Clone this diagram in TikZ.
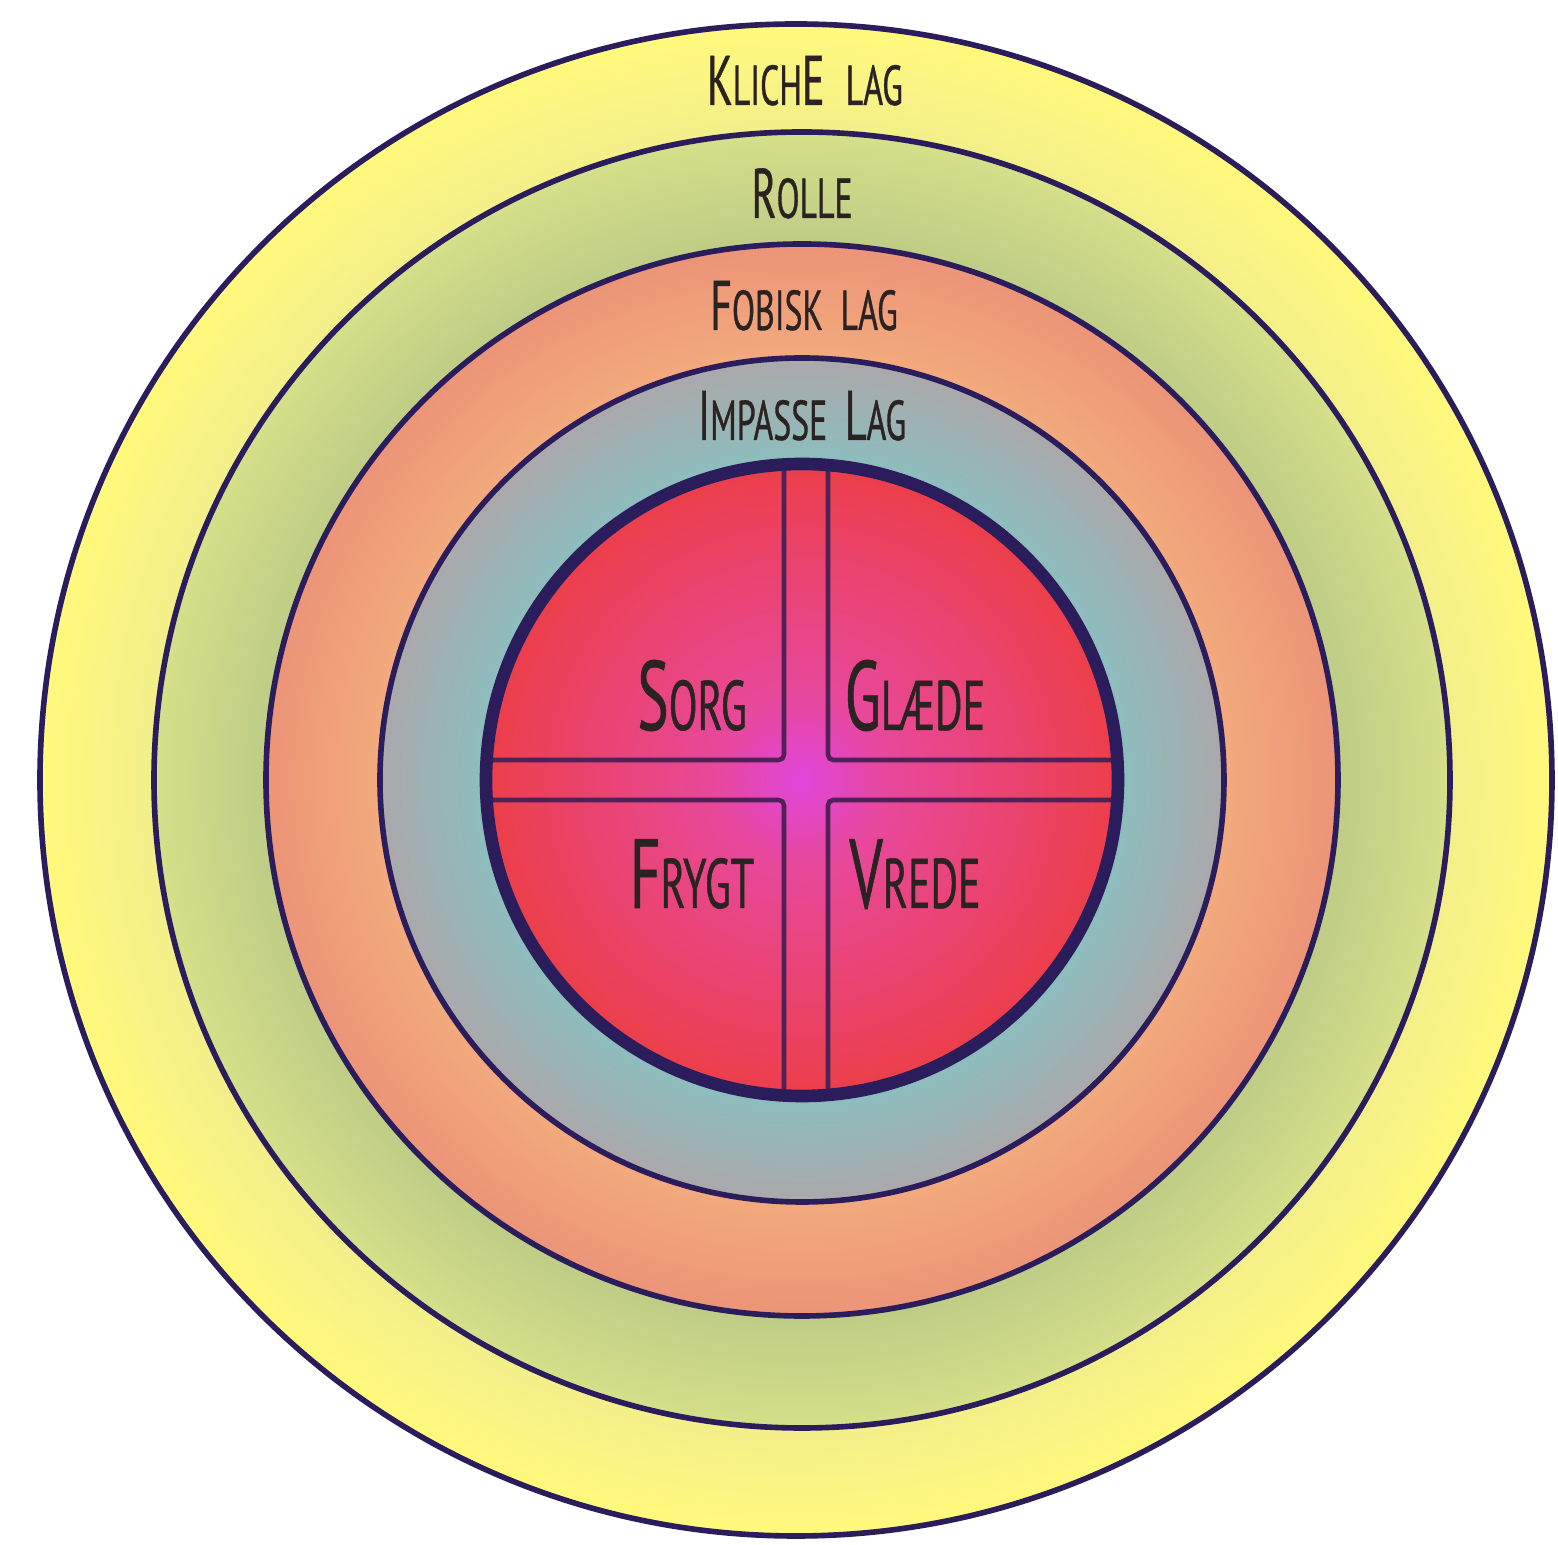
\documentclass[tikz,border=0pt]{standalone}
\usepackage{fontspec}
\usepackage{xcolor,tikz}
\newfontfamily\handfont[FakeStretch=0.6,FakeBold=0.6]{PT Sans}
\definecolor{rim}{HTML}{2B1D5C}
\definecolor{bars}{HTML}{4F2157}
\definecolor{ink}{HTML}{2B2222}
\definecolor{klicheIn}{HTML}{F3EF8A}
\definecolor{klicheOut}{HTML}{FFF97C}
\definecolor{rolleIn}{HTML}{BECC86}
\definecolor{rolleOut}{HTML}{D6DF88}
\definecolor{fobiskIn}{HTML}{F2AA7D}
\definecolor{fobiskOut}{HTML}{EC9478}
\definecolor{impasseIn}{HTML}{8CBEBE}
\definecolor{impasseOut}{HTML}{ABA8AB}
\definecolor{coreMid}{HTML}{E046DC}
\definecolor{corePink}{HTML}{E8489A}
\definecolor{coreRed}{HTML}{EC3F4A}
% one radial ramp per layer: inner edge of the band -> outer edge
\pgfdeclareradialshading{klicheshade}{\pgfpoint{0bp}{0bp}}{color(0bp)=(klicheIn); color(21.4bp)=(klicheIn); color(25bp)=(klicheOut); color(50bp)=(klicheOut)}
\pgfdeclareradialshading{rolleshade}{\pgfpoint{0bp}{0bp}}{color(0bp)=(rolleIn); color(20.7bp)=(rolleIn); color(25bp)=(rolleOut); color(50bp)=(rolleOut)}
\pgfdeclareradialshading{fobiskshade}{\pgfpoint{0bp}{0bp}}{color(0bp)=(fobiskIn); color(19.7bp)=(fobiskIn); color(25bp)=(fobiskOut); color(50bp)=(fobiskOut)}
\pgfdeclareradialshading{impasseshade}{\pgfpoint{0bp}{0bp}}{color(0bp)=(impasseIn); color(18.7bp)=(impasseIn); color(25bp)=(impasseOut); color(50bp)=(impasseOut)}
\pgfdeclareradialshading{coreshade}{\pgfpoint{0bp}{0bp}}{color(0bp)=(coreMid); color(7bp)=(corePink); color(18bp)=(coreRed!60!corePink); color(25bp)=(coreRed); color(50bp)=(coreRed)}
\newcommand{\Hi}[1]{{\fontsize{\hisz}{\hisz}\selectfont #1}}
\newcommand{\Lo}[1]{{\fontsize{\losz}{\losz}\selectfont #1}}

\begin{document}
\begin{tikzpicture}[x=1cm,y=1cm,
  edge/.style={draw=rim,line width=1.6pt},
  corerim/.style={draw=rim,line width=3.6pt},
  bar/.style={draw=bars,line width=1.3pt,rounded corners=1.5pt,line cap=round},
  ring/.style={font=\handfont\def\hisz{20}\def\losz{16},text=ink,anchor=base,inner sep=0pt},
  core/.style={font=\handfont\def\hisz{28}\def\losz{20},text=ink,anchor=base,inner sep=0pt}]
  \useasboundingbox (-8.02,-7.65) rectangle (7.56,7.80);
  \fill[white] (-8.02,-7.65) rectangle (7.56,7.80);
  \coordinate (c) at (0,0);
  \coordinate (o) at (-0.06,0);
  % layers, outside in
  \shade[shading=klicheshade] (o) circle (7.56);
  \shade[shading=rolleshade] (c) circle (6.48);
  \shade[shading=fobiskshade] (c) circle (5.36);
  \shade[shading=impasseshade] (c) circle (4.22);
  \shade[shading=coreshade] (c) circle (3.16);
  % outlines
  \draw[edge] (o) circle (7.56) (c) circle (6.48) (c) circle (5.36) (c) circle (4.22);
  % cross in the core
  \begin{scope}
    \clip (c) circle (3.16);
    \draw[bar] (-0.18,3.4) -- (-0.18,0.20) -- (-3.4,0.20);
    \draw[bar] (0.26,3.4) -- (0.26,0.20) -- (3.4,0.20);
    \draw[bar] (-0.18,-3.4) -- (-0.18,-0.20) -- (-3.4,-0.20);
    \draw[bar] (0.26,-3.4) -- (0.26,-0.20) -- (3.4,-0.20);
  \end{scope}
  \draw[corerim] (c) circle (3.16);
  % layer names
  \node[ring] (kliche) at (0.03,6.75) {\Hi{K}\Lo{LICH}\Hi{E}\hspace{0.6em}\Lo{LAG}};
  \node[ring] (rolle) at (0,5.62) {\Hi{R}\Lo{OLLE}};
  \node[ring] (fobisk) at (0.02,4.50) {\Hi{F}\Lo{OBISK}\hspace{0.5em}\Lo{LAG}};
  \node[ring] (impasse) at (0,3.40) {\Hi{I}\Lo{MPASSE}\hspace{0.5em}\Hi{L}\Lo{AG}};
  % feelings
  \node[core] (sorg) at (-1.10,0.50) {\Hi{S}\Lo{ORG}};
  \node[core] (glaede) at (1.13,0.50) {\Hi{G}\Lo{LÆDE}};
  \node[core] (frygt) at (-1.10,-1.28) {\Hi{F}\Lo{RYGT}};
  \node[core] (vrede) at (1.13,-1.28) {\Hi{V}\Lo{REDE}};
\end{tikzpicture}
\end{document}
